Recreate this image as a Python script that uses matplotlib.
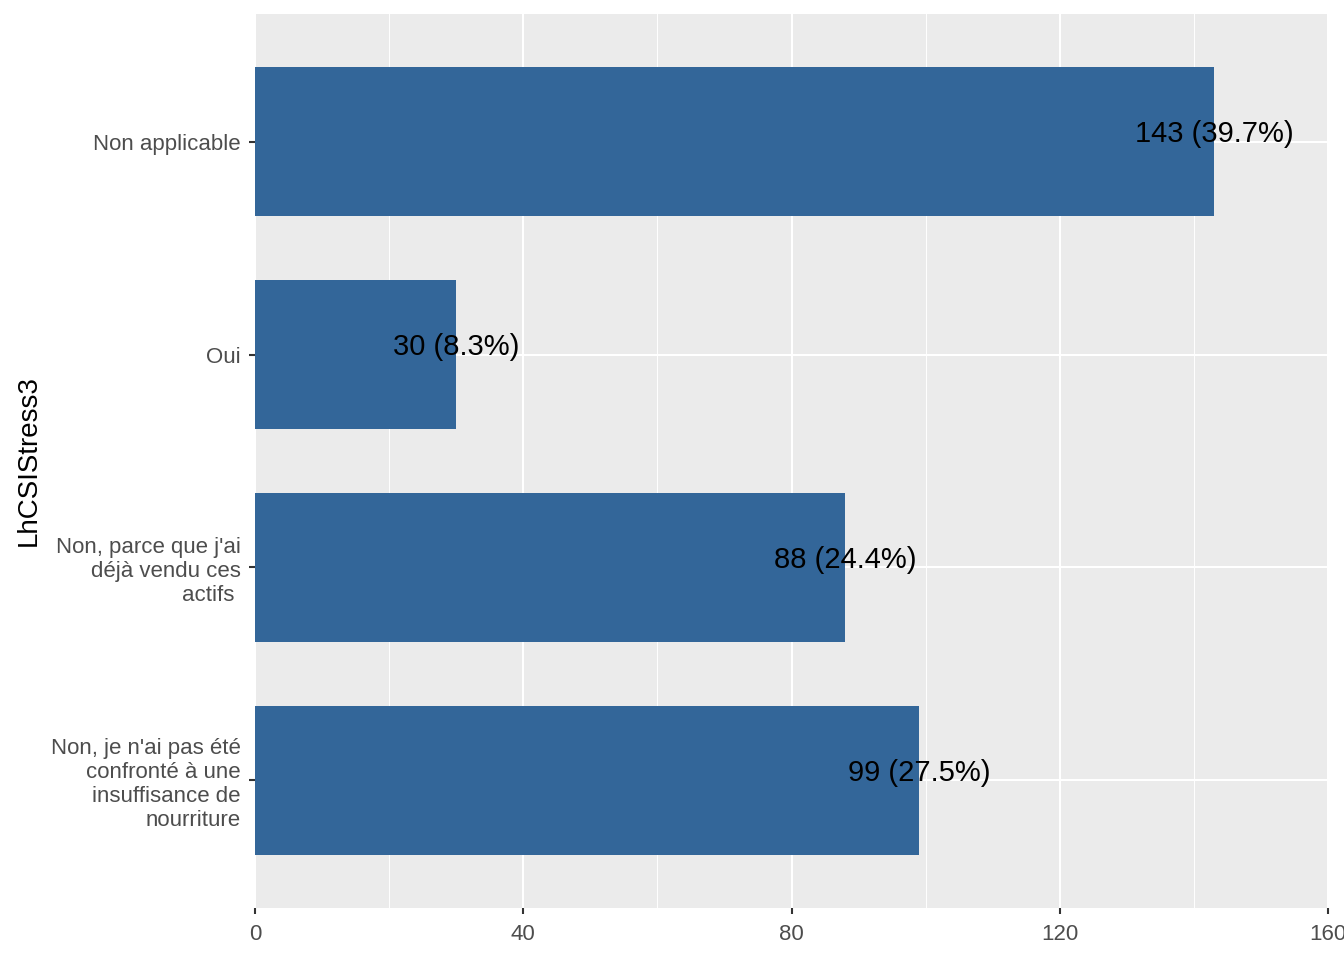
import matplotlib.pyplot as plt
import numpy as np

plt.rcParams['font.family'] = ['Liberation Sans', 'DejaVu Sans']

# data (top to bottom as drawn)
categories = ["Non applicable", "Oui",
              "Non, parce que j'ai\ndéjà vendu ces\nactifs ",
              "Non, je n'ai pas été\nconfronté à une\ninsuffisance de\nnourriture"]
counts = [143, 30, 88, 99]
percents = [39.7, 8.3, 24.4, 27.5]
xticks = [0, 40, 80, 120, 160]

fig = plt.figure(figsize=(13.44, 9.6), dpi=100)
ax = fig.add_axes([255 / 1344, 52 / 960, 1073 / 1344, 894 / 960])
ax.set_facecolor('#EBEBEB')

n = len(categories)
ypos = np.arange(n)[::-1] + 1  # first category on top
ax.barh(ypos, counts, height=0.7, color='#336699', zorder=2)

for y, c, p in zip(ypos, counts, percents):
    ax.text(c, y + 0.035, f"{c} ({p}%)", ha='center', va='center',
            fontsize=21, color='black', zorder=3)

ax.set_xlim(0, 160)
ax.set_ylim(0.4, n + 0.6)
ax.set_xticks(xticks)
ax.set_xticks([20, 60, 100, 140], minor=True)
ax.set_yticks(ypos)
ax.set_yticklabels(categories, linespacing=1.2)

ax.grid(which='major', color='white', linewidth=1.5, zorder=0)
ax.grid(which='minor', axis='x', color='white', linewidth=0.7, zorder=0)
ax.set_axisbelow(True)

for s in ax.spines.values():
    s.set_visible(False)

ax.tick_params(which='major', length=4.5, width=1.5, color='#333333',
               labelcolor='#4D4D4D', labelsize=16)
ax.tick_params(which='minor', length=0)
ax.tick_params(axis='y', pad=6)
ax.tick_params(axis='x', pad=7)

ax.set_ylabel('LhCSIStress3', fontsize=20, color='black', labelpad=6)

fig.savefig('out.png', dpi=100)
